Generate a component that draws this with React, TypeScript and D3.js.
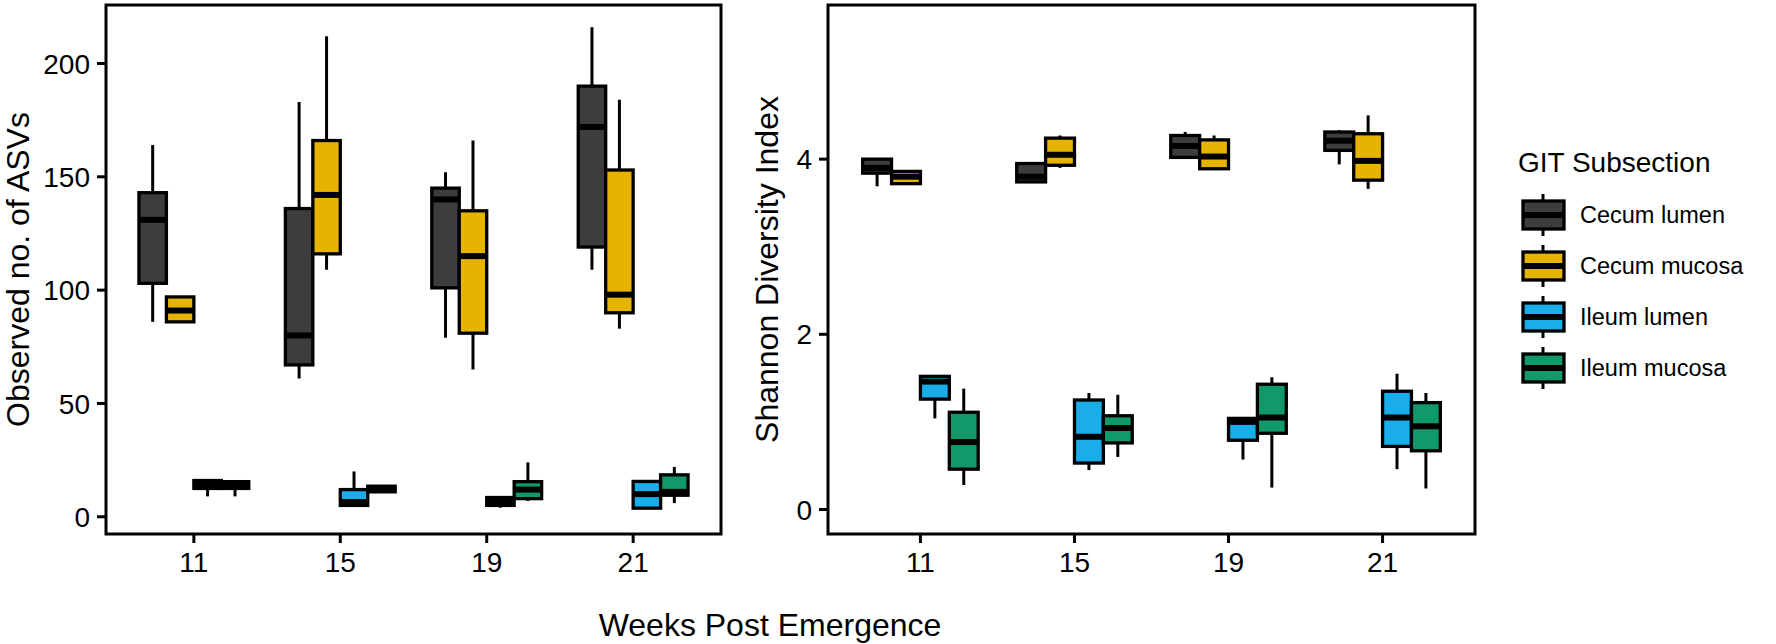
import * as d3 from "d3";

const weeks = ["11", "15", "19", "21"];
const subsections = ["Cecum lumen", "Cecum mucosa", "Ileum lumen", "Ileum mucosa"];
const colors = ["#3d3d3d", "#e6b300", "#19aeea", "#12996b"];

// [lower whisker, Q1, median, Q3, upper whisker] for weeks 11, 15, 19, 21
const asvCecumLumen = [[86, 103, 131, 143, 164], [61, 67, 80, 136, 183], [79, 101, 140, 145, 152], [109, 119, 172, 190, 216]];
const asvCecumMucosa = [[86, 86, 91, 97, 97], [109, 116, 142, 166, 212], [65, 81, 115, 135, 166], [83, 90, 98, 153, 184]];
const asvIleumLumen = [[9, 12.5, 14, 16, 16.5], [5, 5, 6.5, 12, 20], [4, 5, 6.5, 8.5, 8.5], [3.5, 3.8, 10, 15.6, 15.6]];
const asvIleumMucosa = [[9, 12.5, 14, 15.5, 15.5], [11, 11, 12, 13.5, 13.5], [7, 8, 12, 15.5, 24], [6, 9.5, 11, 18.5, 22]];

const shannonCecumLumen = [[3.69, 3.84, 3.9, 4.0, 4.0], [3.74, 3.74, 3.8, 3.95, 3.95], [4.02, 4.02, 4.15, 4.27, 4.31], [3.94, 4.1, 4.21, 4.31, 4.33]];
const shannonCecumMucosa = [[3.72, 3.72, 3.8, 3.86, 3.86], [3.9, 3.93, 4.05, 4.24, 4.27], [3.89, 3.89, 4.03, 4.22, 4.27], [3.66, 3.76, 3.98, 4.29, 4.5]];
const shannonIleumLumen = [[1.04, 1.26, 1.46, 1.52, 1.52], [0.45, 0.53, 0.83, 1.25, 1.33], [0.57, 0.79, 1.0, 1.04, 1.05], [0.46, 0.72, 1.05, 1.35, 1.55]];
const shannonIleumMucosa = [[0.28, 0.46, 0.77, 1.11, 1.38], [0.6, 0.76, 0.93, 1.07, 1.31], [0.25, 0.87, 1.05, 1.43, 1.51], [0.24, 0.67, 0.95, 1.22, 1.33]];

const asvTicks = [0, 50, 100, 150, 200];
const shannonTicks = [0, 2, 4];

const FONT = "'Liberation Sans', Arial, Helvetica, sans-serif";
const TOP = 5;
const BOTTOM = 534;

function Panel({ x0, x1, domain, ticks, series, title, titleX }) {
  const x = d3.scalePoint().domain(weeks).range([x0, x1]).padding(0.6);
  const y = d3.scaleLinear().domain(domain).range([BOTTOM, TOP]);
  const bw = (x.step() * 0.75) / subsections.length;

  return (
    <g>
      {series.map((stats, j) =>
        stats.map((s, i) => {
          const cx = x(weeks[i]) + (j - 1.5) * bw;
          const [lo, q1, med, q3, hi] = s;
          return (
            <g key={`${j}-${i}`}>
              <line x1={cx} x2={cx} y1={y(hi)} y2={y(q3)} stroke="#000" strokeWidth={3} />
              <line x1={cx} x2={cx} y1={y(q1)} y2={y(lo)} stroke="#000" strokeWidth={3} />
              <rect x={cx - bw / 2} y={y(q3)} width={bw} height={Math.max(0, y(q1) - y(q3))}
                fill={colors[j]} stroke="#000" strokeWidth={3.3} />
              <line x1={cx - bw / 2} x2={cx + bw / 2} y1={y(med)} y2={y(med)} stroke="#000" strokeWidth={6} />
            </g>
          );
        })
      )}
      <rect x={x0} y={TOP} width={x1 - x0} height={BOTTOM - TOP} fill="none" stroke="#000" strokeWidth={3} />
      {ticks.map((t) => (
        <g key={t}>
          <line x1={x0 - 9} x2={x0} y1={y(t)} y2={y(t)} stroke="#000" strokeWidth={3} />
          <text x={x0 - 16} y={y(t)} dy="0.36em" textAnchor="end" fontSize={28}>{t}</text>
        </g>
      ))}
      {weeks.map((w) => (
        <g key={w}>
          <line x1={x(w)} x2={x(w)} y1={BOTTOM} y2={BOTTOM + 9} stroke="#000" strokeWidth={3} />
          <text x={x(w)} y={572} textAnchor="middle" fontSize={28}>{w}</text>
        </g>
      ))}
      <text transform={`translate(${titleX},${(TOP + BOTTOM) / 2}) rotate(-90)`} textAnchor="middle" fontSize={32}>
        {title}
      </text>
    </g>
  );
}

export default function App() {
  const keyY = d3.scalePoint().domain(subsections).range([215, 368]);
  return (
    <svg width={1776} height={644} style={{ position: "absolute", left: 0, top: 0, background: "#fff" }} fontFamily={FONT}>
      <rect width={1776} height={644} fill="#fff" />
      <Panel x0={106} x1={721} domain={[-7.6, 225.8]} ticks={asvTicks}
        series={[asvCecumLumen, asvCecumMucosa, asvIleumLumen, asvIleumMucosa]}
        title="Observed no. of ASVs" titleX={29} />
      <Panel x0={828} x1={1475} domain={[-0.28, 5.76]} ticks={shannonTicks}
        series={[shannonCecumLumen, shannonCecumMucosa, shannonIleumLumen, shannonIleumMucosa]}
        title="Shannon Diversity Index" titleX={778} />
      <text x={770} y={636} textAnchor="middle" fontSize={32}>Weeks Post Emergence</text>
      <text x={1518} y={172} fontSize={28}>GIT Subsection</text>
      {subsections.map((s, j) => {
        const cy = keyY(s);
        return (
          <g key={s}>
            <line x1={1543} x2={1543} y1={cy - 21} y2={cy + 21} stroke="#000" strokeWidth={3} />
            <rect x={1523} y={cy - 14} width={41} height={28} fill={colors[j]} stroke="#000" strokeWidth={3.3} />
            <line x1={1523} x2={1564} y1={cy} y2={cy} stroke="#000" strokeWidth={6} />
            <text x={1580} y={cy} dy="0.36em" fontSize={23.5}>{s}</text>
          </g>
        );
      })}
    </svg>
  );
}
